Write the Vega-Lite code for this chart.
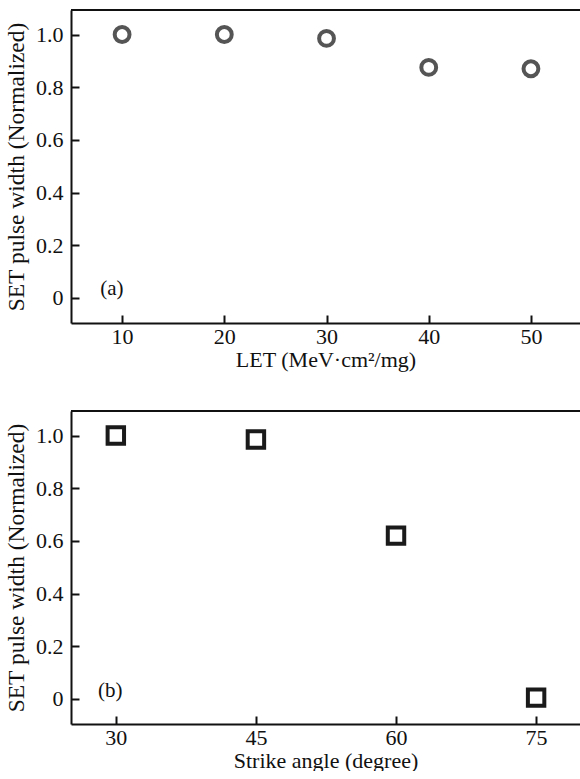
{
  "$schema": "https://vega.github.io/schema/vega-lite/v6.json",
  "padding": {"left": 4, "top": 9, "right": 0, "bottom": 0},
  "background": "white",
  "config": {
    "font": "Liberation Serif",
    "view": {"stroke": null},
    "axis": {
      "domainColor": "#111",
      "domainWidth": 2,
      "tickColor": "#111",
      "tickWidth": 2,
      "tickSize": -8,
      "labelColor": "#111",
      "labelFont": "Liberation Serif",
      "labelFontSize": 22,
      "titleFont": "Liberation Serif",
      "titleFontWeight": "normal",
      "titleColor": "#111",
      "titleFontSize": 22,
      "grid": false
    }
  },
  "datasets": {
    "let": [
      {"LET": 10, "pw": 1.0},
      {"LET": 20, "pw": 1.0},
      {"LET": 30, "pw": 0.985},
      {"LET": 40, "pw": 0.875},
      {"LET": 50, "pw": 0.87}
    ],
    "angle": [
      {"angle": 30, "pw": 1.0},
      {"angle": 45, "pw": 0.985},
      {"angle": 60, "pw": 0.62},
      {"angle": 75, "pw": 0.005}
    ],
    "labA": [{"x": 9.0, "y": 0.034, "t": "(a)"}],
    "labB": [{"x": 29.4, "y": 0.03, "t": "(b)"}]
  },
  "vconcat": [
    {
      "width": 509,
      "height": 313,
      "layer": [
        {
          "data": {"name": "let"},
          "mark": {"type": "point", "shape": "circle", "filled": false, "size": 220, "strokeWidth": 4, "color": "#555", "opacity": 1},
          "encoding": {
            "x": {"field": "LET", "type": "quantitative", "scale": {"domain": [5, 54.8], "nice": false, "zero": false},
              "axis": {"values": [10, 20, 30, 40, 50], "title": "LET (MeV·cm²/mg)", "labelPadding": 11, "titlePadding": 2}},
            "y": {"field": "pw", "type": "quantitative", "scale": {"domain": [-0.095, 1.093], "nice": false, "zero": false},
              "axis": {"values": [0, 0.2, 0.4, 0.6, 0.8, 1.0], "labelExpr": "datum.value == 0 ? '0' : format(datum.value, '.1f')", "title": "SET pulse width (Normalized)", "titleFontSize": 23.5, "labelPadding": 16, "titlePadding": 7}}
          }
        },
        {
          "data": {"name": "labA"},
          "mark": {"type": "text", "fontSize": 21, "color": "#111", "baseline": "middle", "align": "center"},
          "encoding": {
            "x": {"field": "x", "type": "quantitative"},
            "y": {"field": "y", "type": "quantitative"},
            "text": {"field": "t"}
          }
        },
        {
          "data": {"values": [{"v": 1.093}]},
          "mark": {"type": "rule", "color": "#111", "strokeWidth": 2},
          "encoding": {"y": {"field": "v", "type": "quantitative"}}
        }
      ]
    },
    {
      "width": 509,
      "height": 313,
      "layer": [
        {
          "data": {"name": "angle"},
          "mark": {"type": "point", "shape": "square", "filled": false, "size": 270, "strokeWidth": 4, "color": "#1a1a1a", "opacity": 1},
          "encoding": {
            "x": {"field": "angle", "type": "quantitative", "scale": {"domain": [25.2, 79.7], "nice": false, "zero": false},
              "axis": {"values": [30, 45, 60, 75], "title": "Strike angle (degree)", "labelPadding": 11, "titlePadding": 2}},
            "y": {"field": "pw", "type": "quantitative", "scale": {"domain": [-0.095, 1.093], "nice": false, "zero": false},
              "axis": {"values": [0, 0.2, 0.4, 0.6, 0.8, 1.0], "labelExpr": "datum.value == 0 ? '0' : format(datum.value, '.1f')", "title": "SET pulse width (Normalized)", "titleFontSize": 23.5, "labelPadding": 16, "titlePadding": 7}}
          }
        },
        {
          "data": {"name": "labB"},
          "mark": {"type": "text", "fontSize": 21, "color": "#111", "baseline": "middle", "align": "center"},
          "encoding": {
            "x": {"field": "x", "type": "quantitative"},
            "y": {"field": "y", "type": "quantitative"},
            "text": {"field": "t"}
          }
        },
        {
          "data": {"values": [{"v": 1.093}]},
          "mark": {"type": "rule", "color": "#111", "strokeWidth": 2},
          "encoding": {"y": {"field": "v", "type": "quantitative"}}
        }
      ]
    }
  ],
  "spacing": 88,
  "bounds": "flush"
}
